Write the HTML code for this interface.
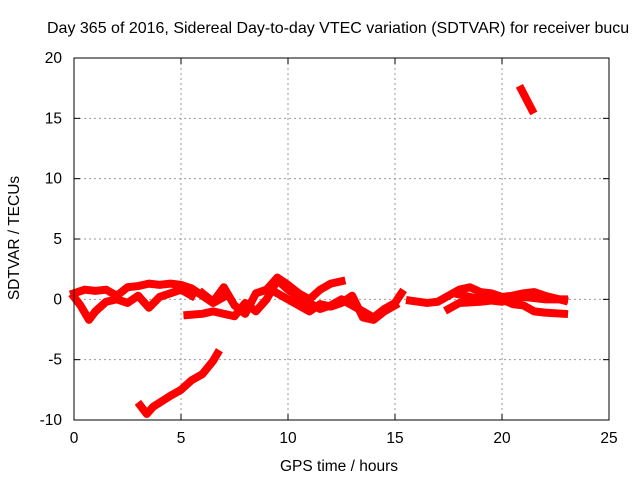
<!DOCTYPE html>
<html><head><meta charset="utf-8"><style>
body{margin:0;background:#fff}
svg{display:block;font-family:"Liberation Sans",sans-serif;font-size:15.5px}
</style></head><body>
<svg id="chart" width="640" height="480">
<text x="47" y="33" style="font-size:16px">Day 365 of 2016, Sidereal Day-to-day VTEC variation (SDTVAR) for receiver bucu</text>
<text x="339" y="471" text-anchor="middle">GPS time / hours</text>
<text transform="translate(19,238) rotate(-90)" text-anchor="middle">SDTVAR / TECUs</text>
<g id="grid"></g><g id="ticks"></g><g id="series"></g>
<rect x="74" y="58" width="535" height="362" fill="none" stroke="#000"/>
</svg>
<script>
const xTicks=[0,5,10,15,20,25];
const yTicks=[-10,-5,0,5,10,15,20];
const s1=[[0,0.5],[0.5,0.8],[1,0.7],[1.5,0.8],[2,0.3],[2.5,1],[3,1.1],[3.5,1.3],[4,1.2],[4.5,1.3],[5,1.2],[5.5,0.9],[6,0.3],[6.5,-0.3],[7,0.2]];
const s2=[[0,0.2],[0.3,-0.5],[0.7,-1.7],[1,-1],[1.5,-0.2],[2,0],[2.5,-0.3],[3,0.3],[3.5,-0.7],[4,0.2],[4.5,0.5],[5,0.8],[5.5,0.3]];
const s3=[[5.3,-1.3],[6,-1.2],[6.5,-1],[7,-1.2],[7.5,-1.4],[8,-0.3],[8.5,-1],[9,0],[9.5,1.6],[10,0.8],[10.5,0.2],[11,-0.3],[11.5,-0.8],[12,-0.5],[12.5,0],[13,-0.5],[13.5,-1],[14,-1.5],[14.5,-0.8],[15,-0.3],[15.3,0.5]];
const s4=[[6,0.5],[6.5,-0.2],[7,1],[7.5,-0.5],[8,-1.2],[8.5,0.5],[9,0.8],[9.5,1.8],[10,1.2],[10.5,0.5],[11,0],[11.5,0.8],[12,1.3],[12.5,1.5]];
const s5=[[9.5,0.5],[10.5,-0.5],[11,-1],[11.5,-0.4],[12,-0.6],[12.5,-0.3],[13,0.3],[13.5,-1.5],[14,-1.7],[14.5,-1],[15,-0.5]];
const s6=[[15.7,-0.1],[16.5,-0.3],[17,-0.2],[17.5,0.3],[18,0.8],[18.5,1],[19,0.6],[19.5,0.5],[20,0.2],[20.5,0.3],[21,0.5],[21.5,0.6],[22,0.3],[22.9,-0.1]];
const s7=[[17.5,-0.8],[18,-0.3],[19,-0.2],[20,0],[20.5,-0.4],[21,-0.5],[21.5,-1],[22,-1.1],[22.9,-1.2]];
const s8=[[18,0.4],[19,0],[20,-0.2],[21,0.2],[22,0],[22.9,0]];
const s9=[[3.1,-8.8],[3.4,-9.5],[3.7,-8.9],[4.5,-8],[5,-7.5],[5.5,-6.7],[6,-6.2],[6.5,-5.1],[6.7,-4.5]];
const s10=[[20.9,17.4],[21.4,15.7]];
const allSeries=[s1,s2,s3,s4,s5,s6,s7,s8,s9,s10];
const X=v=>74+v*535/25, Y=v=>420-(v+10)*362/30;
const NS="http://www.w3.org/2000/svg";
const grid=document.getElementById('grid'),ticks=document.getElementById('ticks'),ser=document.getElementById('series');
function mk(t,a,p){const e=document.createElementNS(NS,t);for(const k in a)e.setAttribute(k,a[k]);p.appendChild(e);return e;}
xTicks.forEach(v=>{const x=X(v);
 if(v>0&&v<25){const g=mk('line',{x1:x,x2:x,y1:58,y2:420,stroke:'#999','stroke-dasharray':'2,3'},grid);
 
 }
 mk('line',{x1:x,x2:x,y1:420,y2:414,stroke:'#000'},ticks);mk('line',{x1:x,x2:x,y1:58,y2:64,stroke:'#000'},ticks);
 const t=mk('text',{x:x,y:443,'text-anchor':'middle'},ticks);t.textContent=v;
 
 });
yTicks.forEach(v=>{const y=Y(v);
 if(v>-10&&v<20){const g=mk('line',{x1:74,x2:609,y1:y,y2:y,stroke:'#999','stroke-dasharray':'2,3'},grid);
 
 }
 mk('line',{x1:74,x2:80,y1:y,y2:y,stroke:'#000'},ticks);mk('line',{x1:609,x2:603,y1:y,y2:y,stroke:'#000'},ticks);
 const t=mk('text',{x:62,y:y+5,'text-anchor':'end'},ticks);t.textContent=v;
 
 });
allSeries.forEach(s=>{const p=mk('polyline',{points:s.map(d=>X(d[0])+','+Y(d[1])).join(' '),fill:'none',stroke:'#f00','stroke-width':8,'stroke-linejoin':'round','stroke-linecap':'square'},ser);
 
 });
</script>
</body></html>
